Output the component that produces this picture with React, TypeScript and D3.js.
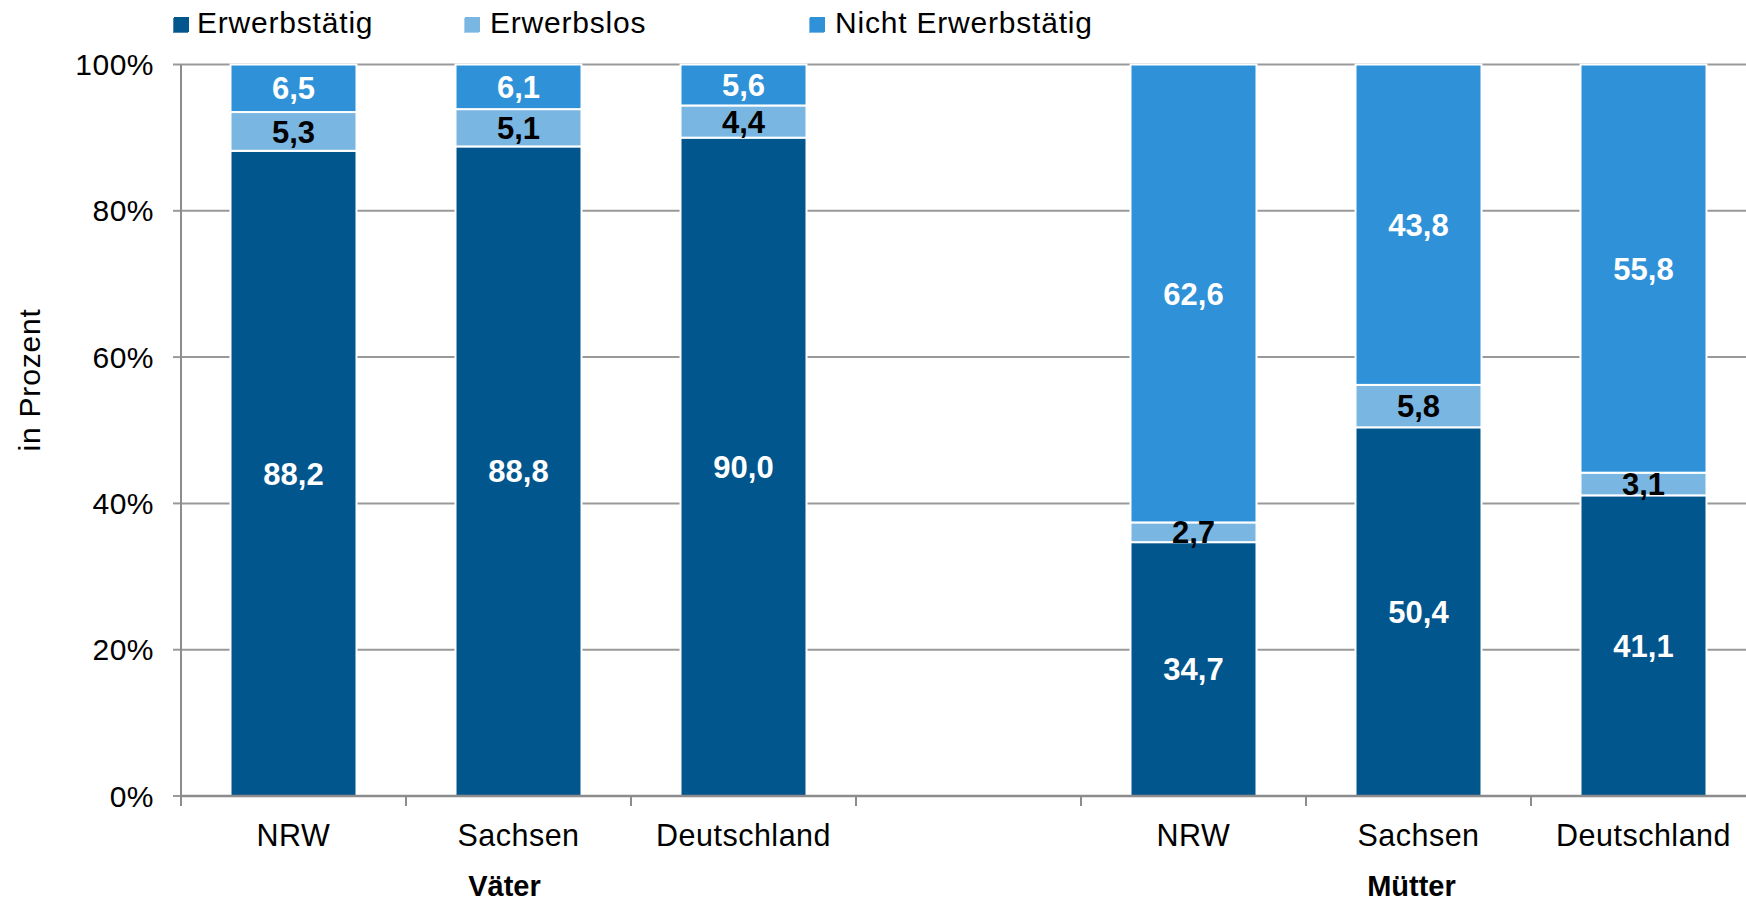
import React from "react";
import * as d3 from "d3";

// ---- data ----
const categoryLabels = ["NRW", "Sachsen", "Deutschland", "", "NRW", "Sachsen", "Deutschland"];
const erwerbstaetig = [88.2, 88.8, 90.0, null, 34.7, 50.4, 41.1];
const erwerbslos = [5.3, 5.1, 4.4, null, 2.7, 5.8, 3.1];
const nichtErwerbstaetig = [6.5, 6.1, 5.6, null, 62.6, 43.8, 55.8];
const seriesNames = ["Erwerbstätig", "Erwerbslos", "Nicht Erwerbstätig"];
const seriesColors = ["#02568E", "#7AB6E2", "#2F92D8"];
const seriesShadow = ["#4F86B0", "#A9D0EE", "#7DB8E6"];
const labelColors = ["#ffffff", "#000000", "#ffffff"];
const groupLabels = ["Väter", "Mütter"];
const groupCenterSlot = [1, 5];
const yTicks = [0, 20, 40, 60, 80, 100];

const W = 1746;
const H = 904;
const FONT = "'Liberation Sans', Arial, Helvetica, sans-serif";

export default function App() {
  const left = 181;
  const step = 225;
  const top = 64.5;
  const bottom = 796;

  const idx = categoryLabels.map((_, i) => i);
  const x = d3
    .scaleBand<number>()
    .domain(idx)
    .range([left, left + step * categoryLabels.length])
    .paddingInner(0.44)
    .paddingOuter(0.22);
  const y = d3.scaleLinear().domain([0, 100]).range([bottom, top]);

  const rows = idx
    .filter((i) => erwerbstaetig[i] !== null)
    .map((i) => ({
      i,
      s0: erwerbstaetig[i] as number,
      s1: erwerbslos[i] as number,
      s2: nichtErwerbstaetig[i] as number,
    }));
  const stack = d3.stack<any>().keys(["s0", "s1", "s2"]);
  const stacked = stack(rows);

  const legendX = [174, 465, 810];
  const legendTextX = [197, 490, 835];

  return (
    <svg
      width={W}
      height={H}
      style={{ position: "absolute", left: 0, top: 0, background: "#fff" }}
      fontFamily={FONT}
    >
      {/* legend */}
      {seriesNames.map((name, k) => (
        <g key={name}>
          <rect x={legendX[k] - 1} y={18} width={15} height={15} fill={seriesShadow[k]} />
          <rect x={legendX[k]} y={17} width={15} height={15} fill={seriesColors[k]} />
          <text
            x={legendTextX[k]}
            y={33.3}
            fontSize={30}
            letterSpacing={0.8}
            fill="#000"
          >
            {name}
          </text>
        </g>
      ))}

      {/* gridlines */}
      {yTicks.map((t) => (
        <g key={t}>
          {t > 0 && (
            <line x1={left} x2={W} y1={y(t)} y2={y(t)} stroke="#999" strokeWidth={2} />
          )}
          <line x1={left - 8} x2={left} y1={y(t)} y2={y(t)} stroke="#999" strokeWidth={2} />
          <text
            x={154}
            y={y(t)}
            dy="0.35em"
            textAnchor="end"
            fontSize={30}
            letterSpacing={0.5}
            fill="#000"
          >
            {t + "%"}
          </text>
        </g>
      ))}

      {/* y axis title */}
      <text
        transform={`translate(40,380) rotate(-90)`}
        textAnchor="middle"
        fontSize={30}
        letterSpacing={0.8}
        fill="#000"
      >
        in Prozent
      </text>

      {/* bars */}
      {stacked.map((layer, k) => (
        <g key={k}>
          {layer.map((d: any) => (
            <rect
              key={d.data.i}
              x={x(d.data.i)}
              y={y(d[1])}
              width={x.bandwidth()}
              height={y(d[0]) - y(d[1])}
              fill={seriesColors[k]}
              stroke="#fff"
              strokeWidth={2}
            />
          ))}
        </g>
      ))}

      {/* data labels */}
      {stacked.map((layer, k) => (
        <g key={"l" + k}>
          {layer.map((d: any) => (
            <text
              key={d.data.i}
              x={(x(d.data.i) as number) + x.bandwidth() / 2}
              y={y((d[0] + d[1]) / 2)}
              dy="0.36em"
              textAnchor="middle"
              fontSize={31}
              fontWeight="bold"
              fill={labelColors[k]}
            >
              {d3.format(".1f")(d[1] - d[0]).replace(".", ",")}
            </text>
          ))}
        </g>
      ))}

      {/* y axis line */}
      <line x1={left} x2={left} y1={top} y2={bottom} stroke="#8c8c8c" strokeWidth={2} />
      {/* x axis line */}
      <line x1={left} x2={W} y1={bottom} y2={bottom} stroke="#8c8c8c" strokeWidth={2.5} />
      {/* x ticks */}
      {d3.range(categoryLabels.length + 1).map((j) => (
        <line
          key={j}
          x1={left + j * x.step()}
          x2={left + j * x.step()}
          y1={bottom}
          y2={bottom + 10}
          stroke="#8c8c8c"
          strokeWidth={2}
        />
      ))}
      {/* category labels */}
      {idx.map((i) => (
        <text
          key={i}
          x={(x(i) as number) + x.bandwidth() / 2}
          y={846}
          textAnchor="middle"
          fontSize={30.5}
          letterSpacing={0.5}
          fill="#000"
        >
          {categoryLabels[i]}
        </text>
      ))}
      {/* group labels */}
      {groupLabels.map((g, k) => (
        <text
          key={g}
          x={(x(groupCenterSlot[k]) as number) + x.bandwidth() / 2 - (k === 0 ? 14 : 7)}
          y={896}
          textAnchor="middle"
          fontSize={29}
          fontWeight="bold"
          fill="#000"
        >
          {g}
        </text>
      ))}
    </svg>
  );
}
